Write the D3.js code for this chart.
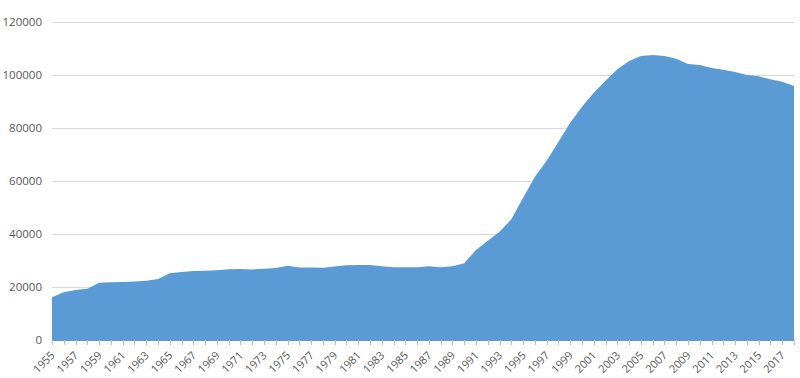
<!DOCTYPE html>
<html><head><meta charset="utf-8">
<script src="https://cdn.jsdelivr.net/npm/d3@7/dist/d3.min.js"></script>
<style>body{margin:0;background:#fff}svg{display:block}text{font-family:"Open Sans",sans-serif;fill:#595959}</style>
</head><body><svg id="c" width="800" height="378"></svg>
<script>
const years = d3.range(1955, 2019);
const values = [16100,18000,18870,19360,21600,21760,21900,22100,22400,23000,
25150,25650,26000,26150,26300,26680,26800,26650,26900,27200,
28050,27400,27400,27300,27700,28200,28300,28300,27800,27420,
27420,27420,27800,27420,27800,29000,33960,37480,40870,45540,
53700,61640,67660,74840,82000,88040,93320,97850,102150,105280,
107170,107550,107170,106160,104150,103770,102640,102000,101130,100000,
99500,98370,97480,95850];
const yTicks = [0,20000,40000,60000,80000,100000,120000];
const xLabels = years.filter((yr,i)=>i%2===0);

(function(){
const svg = d3.select("#c");
const mLeft = 52, mRight = 794, mTop = 22, mBottom = 340;
const x = d3.scalePoint().domain(years).range([mLeft, mRight]);
const y = d3.scaleLinear().domain([0,120000]).range([mBottom, mTop]);

svg.append("g").selectAll("line").data(yTicks.slice(1)).join("line")
  .attr("x1", mLeft).attr("x2", mRight)
  .attr("y1", d=>Math.round(y(d))+0.5).attr("y2", d=>Math.round(y(d))+0.5)
  .attr("stroke", "#d9d9d9").attr("stroke-width", 1);

svg.append("g").selectAll("text").data(yTicks).join("text")
  .attr("x", 42).attr("y", d=>y(d)+4)
  .attr("text-anchor","end").attr("font-size", 11.5)
  .text(d=>d);

const area = d3.area().x((d,i)=>x(years[i])).y0(mBottom).y1(d=>y(d));
svg.append("path").datum(values).attr("d", area).attr("fill", "#5B9BD5");

svg.append("line").attr("x1", mLeft).attr("x2", mRight).attr("y1", mBottom+0.5).attr("y2", mBottom+0.5)
  .attr("stroke", "#5B9BD5");
svg.append("g").selectAll("line").data(years).join("line")
  .attr("x1", d=>Math.round(x(d))+0.5).attr("x2", d=>Math.round(x(d))+0.5)
  .attr("y1", mBottom).attr("y2", mBottom+5)
  .attr("stroke", "#bfbfbf");

svg.append("g").selectAll("text").data(xLabels).join("text")
  .attr("text-anchor","end").attr("font-size", 11)
  .attr("transform", d=>`translate(${x(d)+3.5},${mBottom+16}) rotate(-45)`)
  .text(d=>d);
})();
</script></body></html>
